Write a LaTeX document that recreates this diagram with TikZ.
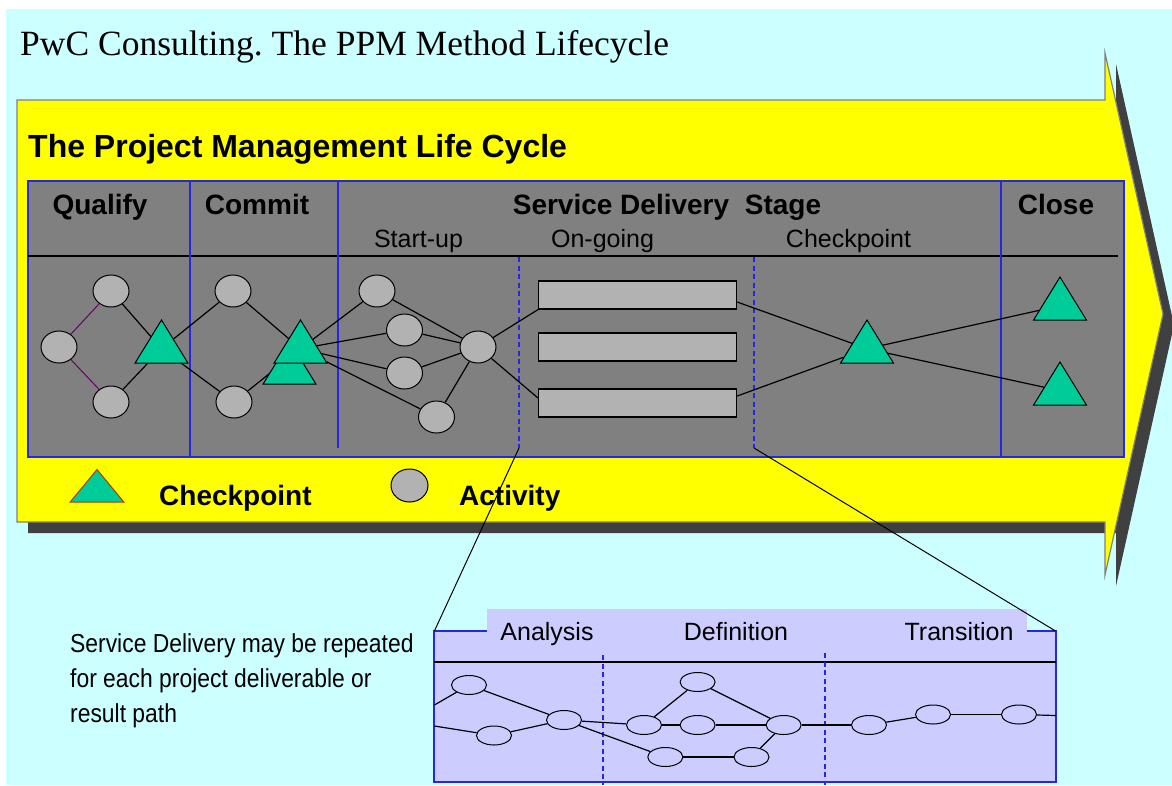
\documentclass[tikz,border=0pt]{standalone}
\usepackage{fontspec}
\setmainfont{Liberation Serif}
\setsansfont{Liberation Sans}
\newfontfamily\narrowsans[FakeStretch=0.88]{Liberation Sans}
\usetikzlibrary{shapes.geometric}
\frenchspacing

\definecolor{skybg}{HTML}{CCFFFF}
\definecolor{arrowyellow}{HTML}{FFFF00}
\definecolor{shadowgray}{HTML}{404040}
\definecolor{boxgray}{HTML}{808080}
\definecolor{nodegray}{HTML}{B2B2B2}
\definecolor{checkgreen}{HTML}{00CC99}
\definecolor{lineblue}{HTML}{2626E6}
\definecolor{lavender}{HTML}{CCCCFF}
\definecolor{linkpurple}{HTML}{660066}
\definecolor{keyrim}{HTML}{B33C00}

\pgfdeclarelayer{back}
\pgfdeclarelayer{links}
\pgfsetlayers{back,links,main}

\tikzset{
  activity/.style={ellipse, fill=nodegray, draw=black, line width=1pt,
    minimum width=36pt, minimum height=32pt, inner sep=0pt},
  checkpt/.style={regular polygon, regular polygon sides=3, fill=checkgreen,
    draw=black, line width=1pt, minimum size=61pt, inner sep=0pt, yscale=0.94},
  workbar/.style={rectangle, fill=nodegray, draw=black, line width=1.2pt,
    minimum width=198pt, minimum height=28pt, inner sep=0pt},
  subact/.style={ellipse, fill=lavender, draw=black, line width=1pt,
    minimum width=35pt, minimum height=19pt, inner sep=0pt},
  conn/.style={draw=black, line width=1.2pt},
  purpleconn/.style={draw=linkpurple, line width=1pt},
  zoomline/.style={draw=black, line width=1pt},
  stagehead/.style={font=\sffamily\bfseries\fontsize{28}{30}\selectfont,
    anchor=base, inner sep=0pt},
  stagesub/.style={font=\sffamily\fontsize{25}{28}\selectfont,
    anchor=base, inner sep=0pt},
  keylabel/.style={font=\sffamily\bfseries\fontsize{28}{30}\selectfont,
    anchor=base west, inner sep=0pt},
  notetext/.style={font=\narrowsans\fontsize{26}{30}\selectfont,
    anchor=base west, inner sep=0pt},
  divider/.style={draw=lineblue, line width=1.3pt},
  splitdash/.style={draw=lineblue, line width=2pt, dash pattern=on 5pt off 3.5pt},
}

\begin{document}
\begin{tikzpicture}[x=1pt, y=-1pt]
\useasboundingbox (0,0) rectangle (1172,785);

% ---------- backdrop, life-cycle arrow and stage grid ----------
\begin{pgfonlayer}{back}
  \fill[white] (0,0) rectangle (1172,785);
  \fill[skybg] (6,9) rectangle (1172,785);
  % arrow shadow
  \fill[shadowgray] (28,111) -- (1116,111) -- (1116,64) -- (1174,325)
    -- (1116,586) -- (1116,533) -- (28,533) -- cycle;
  % arrow
  \draw[fill=arrowyellow, draw=boxgray, line width=1.2pt]
    (17,100) -- (1105,100) -- (1105,53) -- (1163,314)
    -- (1105,575) -- (1105,522) -- (17,522) -- cycle;
  % stage grid
  \draw[fill=boxgray, draw=lineblue, line width=1.3pt] (28,181) rectangle (1124,457);
  \draw[black, line width=1.5pt] (28,256) -- (1118,256);
  \draw[divider] (190,181) -- (190,457);
  \draw[divider] (338,181) -- (338,448);
  \draw[divider] (1001,181) -- (1001,457);
  \draw[splitdash] (519,257) -- (519,448);
  \draw[splitdash] (754,257) -- (754,448);

  % service delivery detail panel
  \fill[lavender] (434.4,631) rectangle (1055.5,782);
  \fill[lavender] (487,609) rectangle (1027,632);
  \draw[lineblue, line width=2pt] (487,631) -- (434.4,631) -- (434.4,782)
    -- (1055.5,782) -- (1055.5,631) -- (1027,631);
  \draw[black, line width=1.5pt] (434.4,662) -- (1055.5,662);
  \draw[splitdash] (603,655) -- (603,785);
  \draw[splitdash] (825.3,653) -- (825.3,785);
\end{pgfonlayer}

% ---------- titles ----------
\node[anchor=base west, inner sep=0pt, font=\fontsize{35.5}{40}\selectfont]
  (title) at (20,55) {PwC Consulting. The PPM Method Lifecycle};
\node[anchor=base west, inner sep=0pt, font=\sffamily\bfseries\fontsize{32}{36}\selectfont]
  (cycletitle) at (28,157) {The Project Management Life Cycle};

\node[stagehead] (hqualify) at (100,214) {Qualify};
\node[stagehead] (hcommit)  at (257,214) {Commit};
\node[stagehead] (hservice) at (667,214) {Service Delivery\hspace{0.56em}Stage};
\node[stagehead] (hclose)   at (1056,214) {Close};
\node[stagesub] (hstart) at (418.5,247) {Start-up};
\node[stagesub] (hgoing) at (602.5,247) {On-going};
\node[stagesub] (hcheck) at (848.5,247) {Checkpoint};

% ---------- stage activities and checkpoints ----------
\node[activity] (q1) at (59,347) {};
\node[activity] (q2) at (111,291) {};
\node[activity] (q3) at (111,402) {};
\node[checkpt]  (t1) at (161.5,348.7) {};
\node[activity] (c1) at (233,291) {};
\node[activity] (c2) at (234,402) {};
\node[checkpt]  (t2b) at (289.5,369.7) {};
\node[checkpt]  (t2) at (300.5,348.7) {};
\node[activity] (s1) at (377,291) {};
\node[activity] (s2) at (404.5,330) {};
\node[activity] (s3) at (404.5,373) {};
\node[activity] (s4) at (436.5,417) {};
\node[activity] (h)  at (478,347) {};
\node[workbar] (r1) at (637.6,295) {};
\node[workbar] (r2) at (637.6,347) {};
\node[workbar] (r3) at (637.6,403) {};
\node[checkpt] (t3) at (867,348.7) {};
\node[checkpt] (t4) at (1060,305.7) {};
\node[checkpt] (t5) at (1060,390.7) {};

\begin{pgfonlayer}{links}
  \draw[purpleconn] (q1) -- (q2);
  \draw[purpleconn] (q1) -- (q3);
  \draw[conn] (q2) -- (t1);
  \draw[conn] (q3) -- (t1);
  \draw[conn] (t1) -- (c1);
  \draw[conn] (t1) -- (c2);
  \draw[conn] (c1) -- (t2);
  \draw[conn] (c2) -- (t2);
  \draw[conn] (t2) -- (s1);
  \draw[conn] (t2) -- (s2);
  \draw[conn] (t2) -- (s3);
  \draw[conn] (t2) -- (s4);
  \draw[conn] (s1) -- (h);
  \draw[conn] (s2) -- (h);
  \draw[conn] (s3) -- (h);
  \draw[conn] (s4) -- (h);
  \draw[conn] (h) -- (r1.south west);
  \draw[conn] (h) -- ([yshift=5pt]r3.west);
  \draw[conn] ([yshift=-7pt]r1.east) -- (t3);
  \draw[conn] ([yshift=7pt]r3.east) -- (t3);
  \draw[conn] (t3) -- (t4);
  \draw[conn] (t3) -- (t5);
\end{pgfonlayer}

% ---------- key ----------
\node[regular polygon, regular polygon sides=3, fill=checkgreen, draw=keyrim,
  line width=1pt, minimum size=62pt, inner sep=0pt, yscale=0.7]
  (keytri) at (97,491.2) {};
\node[keylabel] (keytrilabel) at (159,505) {Checkpoint};
\node[activity, minimum width=37pt, minimum height=33pt] (keydot) at (409.5,485.5) {};
\node[keylabel] (keydotlabel) at (459,505) {Activity};

% ---------- detail panel ----------
\node[stagesub] (panalysis)   at (547,640) {Analysis};
\node[stagesub] (pdefinition) at (736,640) {Definition};
\node[stagesub] (ptransition) at (959,640) {Transition};

\node[subact] (a1) at (469,685) {};
\node[subact] (a2) at (494,735.5) {};
\node[subact] (a3) at (564,720) {};
\node[subact] (d1) at (644,725) {};
\node[subact] (d2) at (697.6,682) {};
\node[subact] (d3) at (697.6,725) {};
\node[subact] (d4) at (783.6,725) {};
\node[subact] (d5) at (665.3,757) {};
\node[subact] (d6) at (751.5,757) {};
\node[subact] (e1) at (869,725) {};
\node[subact] (e2) at (933,714.5) {};
\node[subact] (e3) at (1019,714.5) {};

\coordinate (inA) at (434.4,705);
\coordinate (inB) at (434.4,726);
\coordinate (outC) at (1055.5,715.5);

\begin{pgfonlayer}{links}
  \draw[conn] (inA) -- (a1);
  \draw[conn] (inB) -- (a2);
  \draw[conn] (a1) -- (a3);
  \draw[conn] (a2) -- (a3);
  \draw[conn] (a3) -- (d1);
  \draw[conn] (a3) -- (d5);
  \draw[conn] (d1) -- (d2);
  \draw[conn] (d1) -- (d3);
  \draw[conn] (d3) -- (d4);
  \draw[conn] (d2) -- (d4);
  \draw[conn] (d5) -- (d6);
  \draw[conn] (d6) -- (d4);
  \draw[conn] (d4) -- (e1);
  \draw[conn] (e1) -- (e2);
  \draw[conn] (e2) -- (e3);
  \draw[conn] (e3) -- (outC);
\end{pgfonlayer}

\node[notetext] (note1) at (70,652) {Service Delivery may be repeated};
\node[notetext] (note2) at (70,687) {for each project deliverable or};
\node[notetext] (note3) at (70,722) {result path};

% ---------- zoom lines from the on-going stage to the panel ----------
\coordinate (cutL) at (519,448);
\coordinate (cutR) at (754,448);
\coordinate (panelL) at (434.4,631);
\coordinate (panelR) at (1055.5,631);
\draw[zoomline] (cutL) -- (panelL);
\draw[zoomline] (cutR) -- (panelR);
\end{tikzpicture}
\end{document}
